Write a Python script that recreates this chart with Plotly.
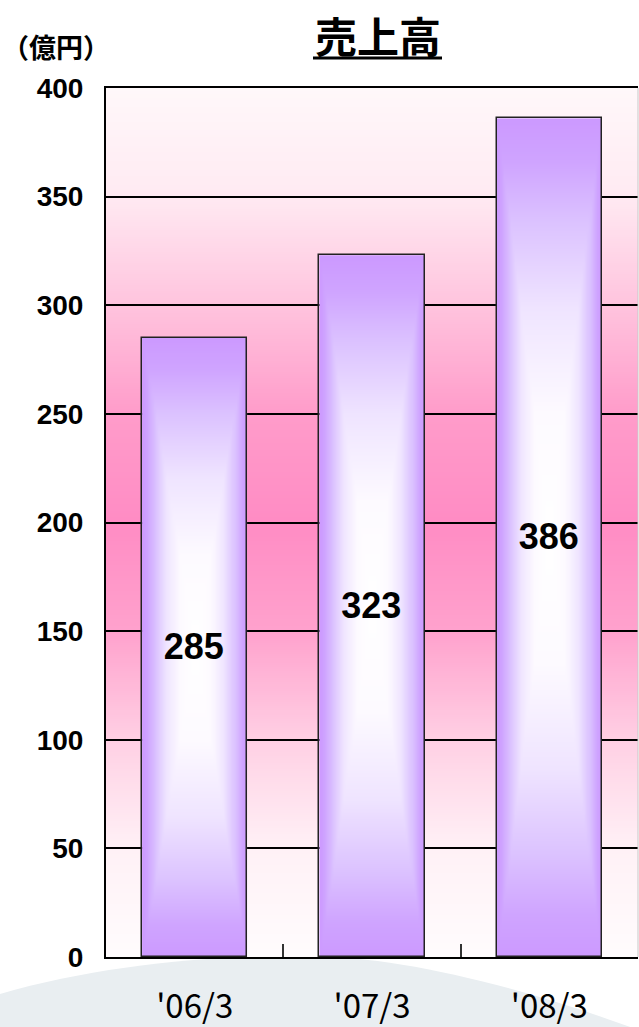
import base64
import struct
import zlib

import numpy as np
import plotly.graph_objects as go

# ---------------- data ----------------
categories = ["'06/3", "'07/3", "'08/3"]
sales = [285, 323, 386]
y_tick_values = [0, 50, 100, 150, 200, 250, 300, 350, 400]
title_text = "売上高"
unit_text = "（億円）"

# ---------------- style ----------------
W, H = 639, 1027
L, R, T, B = 106, 1, 88, 70
BAR_WIDTH = 0.593
PURPLE = "#cc99ff"

# background vertical gradient stops (value -> colour)
bg_stops = [(0, "#fffcfd"), (50, "#fff1f6"), (100, "#ffd0e4"), (150, "#ffa2cd"),
            (200, "#ff8cc4"), (250, "#ff9cca"), (300, "#ffc4de"), (350, "#ffeaf2"),
            (400, "#fff8fa")]


def hex2rgb(h):
    h = h.lstrip("#")
    return tuple(int(h[i:i + 2], 16) for i in (0, 2, 4))


def interp_color(val, stops):
    for (v0, c0), (v1, c1) in zip(stops[:-1], stops[1:]):
        if v0 <= val <= v1:
            f = (val - v0) / (v1 - v0)
            a, b = hex2rgb(c0), hex2rgb(c1)
            return tuple(int(round(a[k] + (b[k] - a[k]) * f)) for k in range(3))
    return hex2rgb(stops[-1][1])


def png_uri(rows):
    h = len(rows)
    w = len(rows[0])
    raw = b"".join(b"\x00" + bytes([c for px in row for c in px]) for row in rows)

    def chunk(tag, data):
        return (struct.pack(">I", len(data)) + tag + data +
                struct.pack(">I", zlib.crc32(tag + data) & 0xffffffff))

    png = (b"\x89PNG\r\n\x1a\n" +
           chunk(b"IHDR", struct.pack(">IIBBBBB", w, h, 8, 2, 0, 0, 0)) +
           chunk(b"IDAT", zlib.compress(raw, 9)) + chunk(b"IEND", b""))
    return "data:image/png;base64," + base64.b64encode(png).decode()


ymax = y_tick_values[-1]
bg_rows = []
for i in range(400):
    val = ymax - (i + 0.5) * ymax / 400
    c = interp_color(val, bg_stops)
    bg_rows.append([c, c])
bg_uri = png_uri(bg_rows)

fig = go.Figure()

# gradient fills of bars (rectangular path gradient: white centre -> purple edges)
bar_scale = [[0.0, "#ffffff"], [0.3, "#fdfaff"], [0.55, "#efe4ff"],
             [0.75, "#dcc3ff"], [0.9, "#cfa4ff"], [1.0, PURPLE]]
nx, ny = 50, 120
for i, v in enumerate(sales):
    xe = np.linspace(i - BAR_WIDTH / 2, i + BAR_WIDTH / 2, nx + 1)
    ye = np.linspace(0, v, ny + 1)
    xc = (xe[:-1] + xe[1:]) / 2
    yc = (ye[:-1] + ye[1:]) / 2
    uu = np.abs((xc - i) / (BAR_WIDTH / 2))
    vv = np.abs((yc - v / 2) / (v / 2))
    z = np.maximum(uu[None, :], vv[:, None])
    fig.add_trace(go.Heatmap(x=xe, y=ye, z=z, zmin=0, zmax=1, colorscale=bar_scale,
                             zsmooth="best", showscale=False, hoverinfo="skip"))

# bar outlines + value labels
fig.add_trace(go.Bar(
    x=list(range(len(categories))), y=sales, width=BAR_WIDTH,
    marker=dict(color="rgba(0,0,0,0)", line=dict(color="#222222", width=1.5)),
    text=[str(s) for s in sales], textposition="inside", insidetextanchor="middle",
    textangle=0, constraintext="none",
    textfont=dict(family="Liberation Sans", size=36, color="black", weight="bold"),
    hoverinfo="skip", showlegend=False,
))


# pixel -> paper coordinates helper
def px2paper(px, py):
    return (px - L) / (W - L - R), (H - B - py) / (H - T - B)


# bottom decorative swoosh
pts = [(-20, 1000), (80, 968), (200, 955), (310, 956), (400, 957), (520, 985),
       (660, 1038)]
p = [px2paper(*q) for q in pts]
path = "M {:.4f},{:.4f} C {:.4f},{:.4f} {:.4f},{:.4f} {:.4f},{:.4f} C {:.4f},{:.4f} {:.4f},{:.4f} {:.4f},{:.4f}".format(
    *p[0], *p[1], *p[2], *p[3], *p[4], *p[5], *p[6])
bl = px2paper(660, 1050)
br = px2paper(-20, 1050)
path += " L {:.4f},{:.4f} L {:.4f},{:.4f} Z".format(*bl, *br)
fig.add_shape(type="path", path=path, xref="paper", yref="paper",
              fillcolor="#e9eef1", line=dict(width=0), layer="below")

# right border (light)
fig.add_shape(type="line", xref="paper", yref="paper", x0=1, x1=1, y0=0, y1=1,
              line=dict(color="#c8c8c8", width=1), layer="above")

# plot-area background gradient
fig.add_layout_image(dict(source=bg_uri, xref="x", yref="y", x=-0.5, y=ymax,
                          sizex=3, sizey=ymax, sizing="stretch", layer="below",
                          xanchor="left", yanchor="top"))

# title with a thick underline
tx, ty = px2paper(378, 34)
fig.add_annotation(text="<b>" + title_text + "</b>", xref="paper", yref="paper",
                   x=tx, y=ty, xanchor="center", yanchor="middle", showarrow=False,
                   font=dict(family="Noto Sans CJK JP", size=42, color="black"))
u0 = px2paper(313, 58)
u1 = px2paper(442, 58)
fig.add_shape(type="line", xref="paper", yref="paper", x0=u0[0], y0=u0[1],
              x1=u1[0], y1=u1[1], line=dict(color="black", width=3))

ux, uy = px2paper(56, 46)
fig.add_annotation(text="<b>" + unit_text + "</b>", xref="paper", yref="paper",
                   x=ux, y=uy, xanchor="center", yanchor="middle", showarrow=False,
                   font=dict(family="Noto Sans CJK JP", size=27, color="black"))

fig.update_layout(
    width=W, height=H, margin=dict(l=L, r=R, t=T, b=B, autoexpand=False),
    paper_bgcolor="white", plot_bgcolor="rgba(0,0,0,0)",
    showlegend=False, bargap=0,
    xaxis=dict(range=[-0.5, 2.5], tickmode="array",
               tickvals=list(range(len(categories))), ticktext=categories,
               ticks="", showgrid=False, zeroline=False,
               showline=True, linecolor="black", linewidth=2, mirror=True,
               tickfont=dict(family="Noto Sans CJK JP", size=33, color="black"),
               ticklabelstandoff=19,
               minor=dict(tickmode="array", tickvals=[0.5, 1.5], ticks="inside",
                          ticklen=13, tickwidth=2, tickcolor="#333333",
                          showgrid=False)),
    yaxis=dict(range=[0, ymax], tickmode="array", tickvals=y_tick_values,
               ticks="", showgrid=True, gridcolor="black", gridwidth=1.5,
               zeroline=False, showline=True, linecolor="black", linewidth=2,
               tickfont=dict(family="Liberation Sans", size=28, color="black",
                             weight="bold"),
               ticklabelstandoff=15),
)

fig.write_html("out.html",
               config={"displayModeBar": False},
               post_script="document.body.style.margin='0';"
                           "document.body.style.overflow='hidden';")
